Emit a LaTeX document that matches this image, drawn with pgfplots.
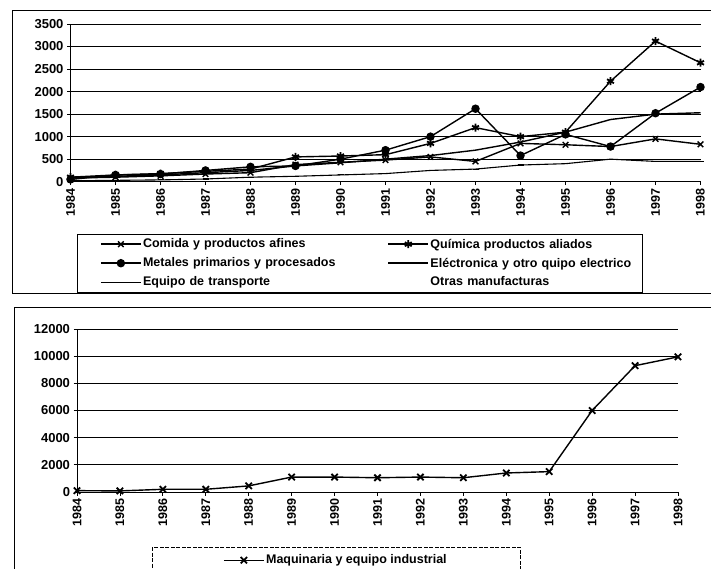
\documentclass[border=0pt]{standalone}
\usepackage{fontspec}
\setmainfont{Liberation Sans}
\usepackage{pgfplots}
\pgfplotsset{compat=1.18}
\begin{document}
\begin{tikzpicture}
\useasboundingbox (0pt,0pt) rectangle (711pt,568pt);
\fill[white] (0pt,0pt) rectangle (711pt,568pt);
% chart area frames
\draw[line width=0.8pt] (720pt,558pt) -- (12pt,558pt) -- (12pt,275pt) -- (720pt,275pt);
\draw[line width=0.8pt] (14pt,-5pt) -- (14pt,261pt) -- (720pt,261pt);
% legend boxes
\draw[line width=0.6pt] (77pt,334pt) rectangle (642pt,276pt);
\draw[line width=0.6pt, dashed, dash pattern=on 4pt off 1.5pt] (152pt,21pt) rectangle (520pt,-10pt);
\pgfplotsset{
  mybase/.style={
    scale only axis,
    axis x line*=bottom, axis y line*=left,
    xmin=1984, xmax=1998, ymin=0,
    xtick={1984,...,1998},
    scaled y ticks=false,
    /pgf/number format/1000 sep={},
    /pgf/number format/assume math mode=true,
    ymajorgrids, grid style={black, line width=0.7pt},
    tick style={black, line width=0.7pt},
    major tick length=3.5pt,
    tick align=outside,
    axis line style={line width=0.8pt},
    xticklabel style={rotate=90, anchor=east, font=\fontsize{12.5}{14}\selectfont\bfseries},
    yticklabel style={font=\fontsize{13}{15}\selectfont\bfseries},
    legend image code/.code={\draw[mark repeat=2,mark phase=2] plot coordinates {(0pt,0pt) (20pt,0pt) (40pt,0pt)};},
    legend style={draw=none, fill=none, font=\fontsize{12.5}{14}\selectfont\bfseries, anchor=north west,
      inner sep=0pt, row sep=0pt, cells={anchor=west},
      nodes={inner xsep=1.5pt, inner ysep=0pt, minimum height=19pt}},
  },
}
\begin{axis}[mybase, at={(70.5pt,386.3pt)}, anchor=south west, width=630pt, height=157.7pt,
  ymax=3500, ytick={0,500,...,3500},
  legend columns=2,
  legend style={at={(0.0468,-0.3348)},
    nodes={text width=243pt, align=left}},
]
\addplot[black, line width=1.4pt, mark=x, mark size=4pt] coordinates {
(1984,80) (1985,100) (1986,130) (1987,170) (1988,200) (1989,380) (1990,430) (1991,480)
(1992,550) (1993,450) (1994,850) (1995,820) (1996,780) (1997,950) (1998,830)};
\addlegendentry{Comida y productos afines}
\addplot[black, line width=1.4pt, mark=asterisk, mark size=4pt, mark options={line width=1.8pt}] coordinates {
(1984,100) (1985,150) (1986,180) (1987,230) (1988,280) (1989,550) (1990,570) (1991,600)
(1992,850) (1993,1200) (1994,1000) (1995,1100) (1996,2230) (1997,3120) (1998,2640)};
\addlegendentry{Química productos aliados}
\addplot[black, line width=1.4pt, mark=*, mark size=3.5pt] coordinates {
(1984,50) (1985,150) (1986,170) (1987,250) (1988,330) (1989,350) (1990,500) (1991,700)
(1992,1000) (1993,1620) (1994,580) (1995,1050) (1996,780) (1997,1520) (1998,2100)};
\addlegendentry{Metales primarios y procesados}
\addplot[black, line width=1.4pt, mark=none] coordinates {
(1984,100) (1985,120) (1986,150) (1987,200) (1988,250) (1989,350) (1990,420) (1991,500)
(1992,580) (1993,700) (1994,880) (1995,1100) (1996,1380) (1997,1500) (1998,1530)};
\addlegendentry{Eléctronica y otro quipo electrico}
\addplot[black, line width=1.1pt, mark=-, mark size=3pt] coordinates {
(1984,20) (1985,30) (1986,40) (1987,60) (1988,100) (1989,120) (1990,150) (1991,180)
(1992,250) (1993,280) (1994,370) (1995,400) (1996,500) (1997,450) (1998,450)};
\addlegendentry{Equipo de transporte}
\addlegendimage{white, mark=none}
\addlegendentry{Otras manufacturas}
\end{axis}
\begin{axis}[mybase, at={(77pt,76pt)}, anchor=south west, width=601pt, height=163pt,
  ymax=12000, ytick={0,2000,...,12000},
  legend style={at={(0.2429,-0.3589)}},
]
\addplot[black, line width=1.4pt, mark=x, mark size=4.5pt, mark options={line width=1.8pt}] coordinates {
(1984,100) (1985,80) (1986,200) (1987,200) (1988,450) (1989,1100) (1990,1100) (1991,1050)
(1992,1100) (1993,1050) (1994,1400) (1995,1500) (1996,6000) (1997,9300) (1998,9950)};
\addlegendentry{Maquinaria y equipo industrial}
\end{axis}
\end{tikzpicture}
\end{document}
